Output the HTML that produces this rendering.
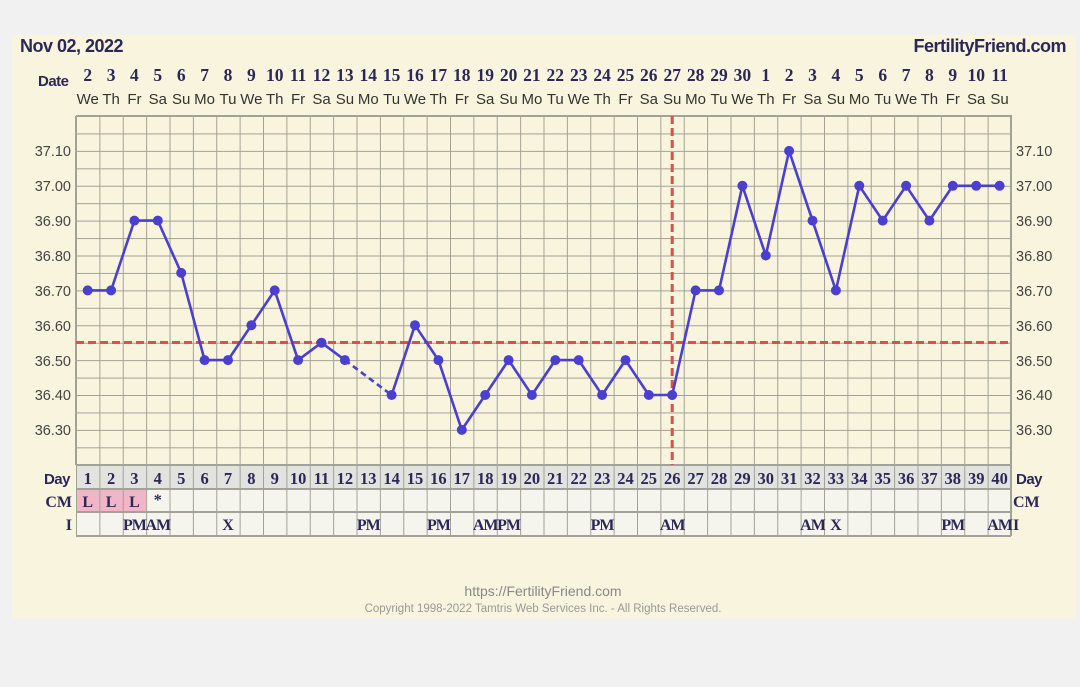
<!DOCTYPE html>
<html><head><meta charset="utf-8"><style>
html,body{margin:0;padding:0;background:#f1f1f1;width:1080px;height:687px;overflow:hidden}
svg{display:block}
.dn{font-family:"Liberation Serif",serif;font-weight:bold;font-size:17.5px;fill:#2b2858;text-anchor:middle}
.wd{font-family:"Liberation Sans",sans-serif;font-size:15px;fill:#333;text-anchor:middle}
.yl{font-family:"Liberation Sans",sans-serif;font-size:14.5px;fill:#444}
.lb{font-family:"Liberation Sans",sans-serif;font-weight:bold;font-size:15px;fill:#2b2858}
.sr{font-family:"Liberation Serif",serif;font-weight:bold;font-size:16px;fill:#2b2858;text-anchor:middle}
</style></head><body>
<svg width="1080" height="687" viewBox="0 0 1080 687">
<defs>
<pattern id="g" x="76" y="116" width="23.375" height="17.4375" patternUnits="userSpaceOnUse">
<path d="M0 0V17.4375M0 0H23.375" stroke="#a2a298" stroke-width="2" fill="none"/>
</pattern>
<pattern id="v" x="76" y="0" width="23.375" height="687" patternUnits="userSpaceOnUse">
<path d="M0 0V687" stroke="#a2a298" stroke-width="2"/>
</pattern>
</defs>
<rect x="12" y="35" width="1064" height="583" fill="#f8f4dd"/>
<text x="20" y="52" class="lb" style="font-size:18px;letter-spacing:-0.5px">Nov 02, 2022</text>
<text x="1066" y="52" class="lb" style="font-size:18px;letter-spacing:-0.5px" text-anchor="end">FertilityFriend.com</text>
<text x="38" y="86" class="lb" style="font-size:15px;letter-spacing:-0.5px">Date</text>
<g class="dn">
<text x="87.7" y="81">2</text><text x="111.1" y="81">3</text><text x="134.4" y="81">4</text><text x="157.8" y="81">5</text><text x="181.2" y="81">6</text><text x="204.6" y="81">7</text><text x="228" y="81">8</text><text x="251.4" y="81">9</text><text x="274.7" y="81">10</text><text x="298.1" y="81">11</text><text x="321.5" y="81">12</text><text x="344.9" y="81">13</text><text x="368.3" y="81">14</text><text x="391.6" y="81">15</text><text x="415" y="81">16</text><text x="438.4" y="81">17</text><text x="461.8" y="81">18</text><text x="485.2" y="81">19</text><text x="508.6" y="81">20</text><text x="531.9" y="81">21</text><text x="555.3" y="81">22</text><text x="578.7" y="81">23</text><text x="602.1" y="81">24</text><text x="625.5" y="81">25</text><text x="648.8" y="81">26</text><text x="672.2" y="81">27</text><text x="695.6" y="81">28</text><text x="719" y="81">29</text><text x="742.4" y="81">30</text><text x="765.8" y="81">1</text><text x="789.1" y="81">2</text><text x="812.5" y="81">3</text><text x="835.9" y="81">4</text><text x="859.3" y="81">5</text><text x="882.7" y="81">6</text><text x="906.1" y="81">7</text><text x="929.4" y="81">8</text><text x="952.8" y="81">9</text><text x="976.2" y="81">10</text><text x="999.6" y="81">11</text>
</g>
<g class="wd">
<text x="87.7" y="104">We</text><text x="111.1" y="104">Th</text><text x="134.4" y="104">Fr</text><text x="157.8" y="104">Sa</text><text x="181.2" y="104">Su</text><text x="204.6" y="104">Mo</text><text x="228" y="104">Tu</text><text x="251.4" y="104">We</text><text x="274.7" y="104">Th</text><text x="298.1" y="104">Fr</text><text x="321.5" y="104">Sa</text><text x="344.9" y="104">Su</text><text x="368.3" y="104">Mo</text><text x="391.6" y="104">Tu</text><text x="415" y="104">We</text><text x="438.4" y="104">Th</text><text x="461.8" y="104">Fr</text><text x="485.2" y="104">Sa</text><text x="508.6" y="104">Su</text><text x="531.9" y="104">Mo</text><text x="555.3" y="104">Tu</text><text x="578.7" y="104">We</text><text x="602.1" y="104">Th</text><text x="625.5" y="104">Fr</text><text x="648.8" y="104">Sa</text><text x="672.2" y="104">Su</text><text x="695.6" y="104">Mo</text><text x="719" y="104">Tu</text><text x="742.4" y="104">We</text><text x="765.8" y="104">Th</text><text x="789.1" y="104">Fr</text><text x="812.5" y="104">Sa</text><text x="835.9" y="104">Su</text><text x="859.3" y="104">Mo</text><text x="882.7" y="104">Tu</text><text x="906.1" y="104">We</text><text x="929.4" y="104">Th</text><text x="952.8" y="104">Fr</text><text x="976.2" y="104">Sa</text><text x="999.6" y="104">Su</text>
</g>
<rect x="76" y="116" width="935" height="349" fill="url(#g)"/>
<path d="M76 116H1011V465M76 116V465" stroke="#a2a298" stroke-width="2" fill="none"/>
<g class="yl">
<text x="71" y="156" text-anchor="end">37.10</text><text x="71" y="191" text-anchor="end">37.00</text><text x="71" y="226" text-anchor="end">36.90</text><text x="71" y="261" text-anchor="end">36.80</text><text x="71" y="296" text-anchor="end">36.70</text><text x="71" y="331" text-anchor="end">36.60</text><text x="71" y="366" text-anchor="end">36.50</text><text x="71" y="400" text-anchor="end">36.40</text><text x="71" y="435" text-anchor="end">36.30</text>
<text x="1016" y="156">37.10</text><text x="1016" y="191">37.00</text><text x="1016" y="226">36.90</text><text x="1016" y="261">36.80</text><text x="1016" y="296">36.70</text><text x="1016" y="331">36.60</text><text x="1016" y="366">36.50</text><text x="1016" y="400">36.40</text><text x="1016" y="435">36.30</text>
</g>
<rect x="76" y="465" width="935" height="24" fill="#e2e2de"/>
<rect x="76" y="489" width="935" height="47" fill="#f5f5ee"/>
<rect x="76" y="489" width="70" height="23" fill="#f2b5c8"/>
<rect x="76" y="465" width="935" height="71" fill="url(#v)"/>
<path d="M76 465H1011M76 489H1011M76 512H1011M76 536H1011M1011 465V536" stroke="#a2a298" stroke-width="2" fill="none"/>
<text x="70" y="484" class="lb" text-anchor="end" style="letter-spacing:-0.5px">Day</text>
<text x="1016" y="484" class="lb" style="letter-spacing:-0.5px">Day</text>
<text x="72" y="507" class="sr" style="text-anchor:end">CM</text>
<text x="1013" y="507" class="sr" style="text-anchor:start">CM</text>
<text x="72" y="530" class="sr" style="text-anchor:end">I</text>
<text x="1013" y="530" class="sr" style="text-anchor:start">I</text>
<g class="dn" style="font-size:16.5px">
<text x="87.7" y="484">1</text><text x="111.1" y="484">2</text><text x="134.4" y="484">3</text><text x="157.8" y="484">4</text><text x="181.2" y="484">5</text><text x="204.6" y="484">6</text><text x="228" y="484">7</text><text x="251.4" y="484">8</text><text x="274.7" y="484">9</text><text x="298.1" y="484">10</text><text x="321.5" y="484">11</text><text x="344.9" y="484">12</text><text x="368.3" y="484">13</text><text x="391.6" y="484">14</text><text x="415" y="484">15</text><text x="438.4" y="484">16</text><text x="461.8" y="484">17</text><text x="485.2" y="484">18</text><text x="508.6" y="484">19</text><text x="531.9" y="484">20</text><text x="555.3" y="484">21</text><text x="578.7" y="484">22</text><text x="602.1" y="484">23</text><text x="625.5" y="484">24</text><text x="648.8" y="484">25</text><text x="672.2" y="484">26</text><text x="695.6" y="484">27</text><text x="719" y="484">28</text><text x="742.4" y="484">29</text><text x="765.8" y="484">30</text><text x="789.1" y="484">31</text><text x="812.5" y="484">32</text><text x="835.9" y="484">33</text><text x="859.3" y="484">34</text><text x="882.7" y="484">35</text><text x="906.1" y="484">36</text><text x="929.4" y="484">37</text><text x="952.8" y="484">38</text><text x="976.2" y="484">39</text><text x="999.6" y="484">40</text>
</g>
<g class="sr">
<text x="87.7" y="507">L</text><text x="111.1" y="507">L</text><text x="134.4" y="507">L</text><text x="157.8" y="505">*</text>
<text x="134.4" y="530" style="letter-spacing:-1px">PM</text><text x="157.8" y="530" style="letter-spacing:-1px">AM</text><text x="228" y="530">X</text>
<text x="368.3" y="530" style="letter-spacing:-1px">PM</text><text x="438.4" y="530" style="letter-spacing:-1px">PM</text><text x="485.2" y="530" style="letter-spacing:-1px">AM</text><text x="508.6" y="530" style="letter-spacing:-1px">PM</text>
<text x="602.1" y="530" style="letter-spacing:-1px">PM</text><text x="672.2" y="530" style="letter-spacing:-1px">AM</text><text x="812.5" y="530" style="letter-spacing:-1px">AM</text><text x="835.9" y="530">X</text><text x="952.8" y="530" style="letter-spacing:-1px">PM</text><text x="999.6" y="530" style="letter-spacing:-1px">AM</text>
</g>
<path d="M76 342.5H1011" stroke="#d9514f" stroke-width="3" stroke-dasharray="8 4"/>
<path d="M672.2 116V465" stroke="#d9514f" stroke-width="3" stroke-dasharray="8 4"/>
<g stroke="#4a3fcf" stroke-width="2.6" fill="none" stroke-linejoin="round">
<polyline points="87.7,290.4 111.1,290.4 134.4,220.6 157.8,220.6 181.2,272.9 204.6,360.1 228,360.1 251.4,325.2 274.7,290.4 298.1,360.1 321.5,342.7 344.9,360.1"/>
<polyline points="344.9,360.1 391.6,395" stroke-dasharray="6 4"/>
<polyline points="391.6,395 415,325.2 438.4,360.1 461.8,429.9 485.2,395 508.6,360.1 531.9,395 555.3,360.1 578.7,360.1 602.1,395 625.5,360.1 648.8,395 672.2,395 695.6,290.4 719,290.4 742.4,185.8 765.8,255.5 789.1,150.9 812.5,220.6 835.9,290.4 859.3,185.8 882.7,220.6 906.1,185.8 929.4,220.6 952.8,185.8 976.2,185.8 999.6,185.8"/>
</g>
<g fill="#4a3fcf">
<circle cx="87.7" cy="290.4" r="5"/><circle cx="111.1" cy="290.4" r="5"/><circle cx="134.4" cy="220.6" r="5"/><circle cx="157.8" cy="220.6" r="5"/><circle cx="181.2" cy="272.9" r="5"/><circle cx="204.6" cy="360.1" r="5"/><circle cx="228" cy="360.1" r="5"/><circle cx="251.4" cy="325.2" r="5"/><circle cx="274.7" cy="290.4" r="5"/><circle cx="298.1" cy="360.1" r="5"/><circle cx="321.5" cy="342.7" r="5"/><circle cx="344.9" cy="360.1" r="5"/><circle cx="391.6" cy="395" r="5"/><circle cx="415" cy="325.2" r="5"/><circle cx="438.4" cy="360.1" r="5"/><circle cx="461.8" cy="429.9" r="5"/><circle cx="485.2" cy="395" r="5"/><circle cx="508.6" cy="360.1" r="5"/><circle cx="531.9" cy="395" r="5"/><circle cx="555.3" cy="360.1" r="5"/><circle cx="578.7" cy="360.1" r="5"/><circle cx="602.1" cy="395" r="5"/><circle cx="625.5" cy="360.1" r="5"/><circle cx="648.8" cy="395" r="5"/><circle cx="672.2" cy="395" r="5"/><circle cx="695.6" cy="290.4" r="5"/><circle cx="719" cy="290.4" r="5"/><circle cx="742.4" cy="185.8" r="5"/><circle cx="765.8" cy="255.5" r="5"/><circle cx="789.1" cy="150.9" r="5"/><circle cx="812.5" cy="220.6" r="5"/><circle cx="835.9" cy="290.4" r="5"/><circle cx="859.3" cy="185.8" r="5"/><circle cx="882.7" cy="220.6" r="5"/><circle cx="906.1" cy="185.8" r="5"/><circle cx="929.4" cy="220.6" r="5"/><circle cx="952.8" cy="185.8" r="5"/><circle cx="976.2" cy="185.8" r="5"/><circle cx="999.6" cy="185.8" r="5"/>
</g>
<text x="543" y="596" text-anchor="middle" style="font-family:'Liberation Sans',sans-serif;font-size:14px;fill:#888">https://FertilityFriend.com</text>
<text x="543" y="612" text-anchor="middle" style="font-family:'Liberation Sans',sans-serif;font-size:11.5px;fill:#999">Copyright 1998-2022 Tamtris Web Services Inc. - All Rights Reserved.</text>
</svg>
</body></html>
